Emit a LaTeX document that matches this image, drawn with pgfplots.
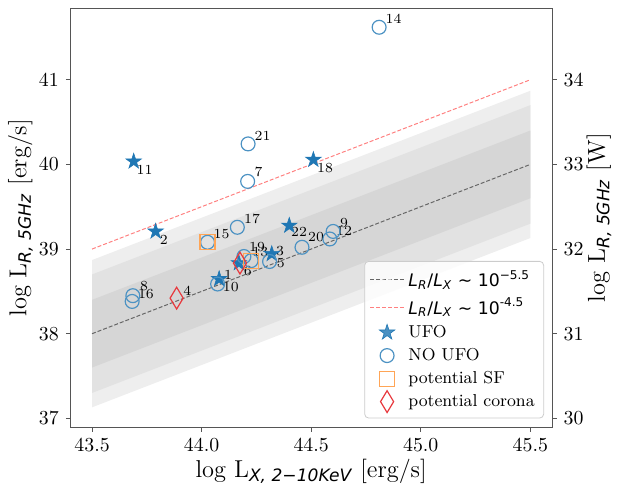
\documentclass[border=0pt]{standalone}
\usepackage{pgfplots}
\pgfplotsset{compat=1.18}
\usepackage{pgfplotstable}
\usetikzlibrary{plotmarks}
\usepackage{fontspec}
\newfontfamily\dejavu{DejaVu Sans}
\definecolor{ufo}{HTML}{1F77B4}
\definecolor{noufo}{HTML}{4C92C3}
\definecolor{sf}{HTML}{FFA556}
\definecolor{cor}{HTML}{E8383D}
\definecolor{bandA}{HTML}{EEEEEE}
\definecolor{bandB}{HTML}{E2E2E2}
\definecolor{bandC}{HTML}{D6D6D6}
\definecolor{spine}{HTML}{555555}
\definecolor{rline}{HTML}{FF8080}

\pgfdeclareplotmark{fstar}{%
  \pgfpathmoveto{\pgfqpointpolar{90}{\pgfplotmarksize}}%
  \pgfpathlineto{\pgfqpointpolar{126}{0.382\pgfplotmarksize}}%
  \pgfpathlineto{\pgfqpointpolar{162}{\pgfplotmarksize}}%
  \pgfpathlineto{\pgfqpointpolar{198}{0.382\pgfplotmarksize}}%
  \pgfpathlineto{\pgfqpointpolar{234}{\pgfplotmarksize}}%
  \pgfpathlineto{\pgfqpointpolar{270}{0.382\pgfplotmarksize}}%
  \pgfpathlineto{\pgfqpointpolar{306}{\pgfplotmarksize}}%
  \pgfpathlineto{\pgfqpointpolar{342}{0.382\pgfplotmarksize}}%
  \pgfpathlineto{\pgfqpointpolar{18}{\pgfplotmarksize}}%
  \pgfpathlineto{\pgfqpointpolar{54}{0.382\pgfplotmarksize}}%
  \pgfpathclose
  \pgfusepathqfillstroke
}

\pgfplotstableread{
x y
44.08 38.646
43.79 39.208
44.32 38.942
44.17 38.834
43.69 40.035
44.51 40.055
44.40 39.277
}\ufotab
\pgfplotstableread{
x y
44.31 38.853
44.21 39.799
43.686 38.449
44.60 39.208
44.073 38.587
44.585 39.119
44.226 38.863
44.81 41.620
44.027 39.080
43.683 38.381
44.163 39.257
44.193 38.912
44.458 39.021
44.212 40.242
}\noufotab
\pgfplotstableread{
x y
44.027 39.080
44.226 38.863
}\sftab
\pgfplotstableread{
x y
43.886 38.420
44.175 38.834
}\cortab

\begin{document}
\begin{tikzpicture}
\begin{axis}[
  scale only axis, width=243pt, height=211.2pt, clip=false,
  xmin=43.4, xmax=45.6, ymin=36.895, ymax=41.845,
  xtick={43.5,44,44.5,45,45.5},
  ytick={37,38,39,40,41},
  xtick pos=bottom, ytick pos=left,
  tick align=outside, major tick length=2.2pt,
  every tick/.style={spine, line width=0.5pt},
  axis line style={spine, line width=0.5pt},
  x tick label style={/pgf/number format/.cd, fixed, fixed zerofill, precision=1},
  tick label style={font=\fontsize{10.2}{12}\selectfont},
  legend style={at={(0.983,0.021)}, anchor=south east, draw=black!20,
    rounded corners=2pt, fill=white, fill opacity=0.8, text opacity=1,
    font=\fontsize{8.7}{10.5}\selectfont, row sep=0pt, inner sep=2.5pt,
    cells={anchor=west}},
]
% bands
\addplot[draw=none, fill=bandA, forget plot] coordinates {(43.5,38.87) (45.5,40.87) (45.5,39.13) (43.5,37.13)} --cycle;
\addplot[draw=none, fill=bandB, forget plot] coordinates {(43.5,38.70) (45.5,40.70) (45.5,39.30) (43.5,37.30)} --cycle;
\addplot[draw=none, fill=bandC, forget plot] coordinates {(43.5,38.40) (45.5,40.40) (45.5,39.60) (43.5,37.60)} --cycle;
% lines
\addplot[black!60, line width=0.5pt, dash pattern=on 2pt off 1pt] coordinates {(43.5,38.0) (45.5,40.0)};
\addlegendentry{{\dejavu\textit{L}\textsubscript{\textit{R}}/\textit{L}\textsubscript{\textit{X}} ∼ 10\textsuperscript{−5.5}}}
\addplot[rline, line width=0.5pt, dash pattern=on 2pt off 1pt] coordinates {(43.5,39.0) (45.5,41.0)};
\addlegendentry{{\dejavu\textit{L}\textsubscript{\textit{R}}/\textit{L}\textsubscript{\textit{X}} ∼ 10\textsuperscript{-4.5}}}
% points
\addplot[only marks, mark=fstar, mark size=4.1pt, draw=ufo, fill=ufo, line width=0.3pt] table {\ufotab};
\addlegendentry{UFO}
\addplot[only marks, mark=o, mark size=3.5pt, draw=noufo, line width=0.6pt] table {\noufotab};
\addlegendentry{NO UFO}
\addplot[only marks, mark=square, mark size=3.8pt, draw=sf, line width=0.6pt] table {\sftab};
\addlegendentry{potential SF}
\addplot[only marks, mark=diamond, mark size=5.5pt, mark options={xscale=0.8}, draw=cor, line width=0.6pt] table {\cortab};
\addlegendentry{potential corona}
% labels
\begin{scope}[every node/.style={font=\fontsize{7}{8}\selectfont, inner sep=0pt}]
\node at (axis cs:44.876,41.719) {14};
\node at (axis cs:44.278,40.336) {21};
\node at (axis cs:44.260,39.907) {7};
\node at (axis cs:44.563,39.956) {18};
\node at (axis cs:43.740,39.937) {11};
\node at (axis cs:43.827,39.109) {2};
\node at (axis cs:44.091,39.178) {15};
\node at (axis cs:44.230,39.356) {17};
\node at (axis cs:43.737,38.568) {8};
\node at (axis cs:43.746,38.469) {16};
\node at (axis cs:43.935,38.509) {4};
\node at (axis cs:44.121,38.695) {1};
\node at (axis cs:44.133,38.548) {10};
\node at (axis cs:44.211,38.735) {6};
\node at (axis cs:44.253,39.021) {19};
\node at (axis cs:44.268,38.967) {13};
\node at (axis cs:44.358,38.971) {3};
\node at (axis cs:44.361,38.834) {5};
\node at (axis cs:44.445,39.198) {22};
\node at (axis cs:44.522,39.139) {20};
\node at (axis cs:44.650,39.306) {9};
\node at (axis cs:44.650,39.218) {12};
\end{scope}
% axis labels
\node[font=\fontsize{12.3}{14}\selectfont, anchor=center] at (rel axis cs:0.5,-0.105)
  {log L\textsubscript{\dejavu\itshape X, 2−10KeV} [erg/s]};
\node[font=\fontsize{12.3}{14}\selectfont, anchor=center, rotate=90] at (rel axis cs:-0.103,0.5)
  {log L\textsubscript{\dejavu\itshape R, 5GHz} [erg/s]};
\node[font=\fontsize{12.3}{14}\selectfont, anchor=center, rotate=90] at (rel axis cs:1.097,0.5)
  {log L\textsubscript{\dejavu\itshape R, 5GHz} [W]};
\path (rel axis cs:-0.1455,-0.1404) rectangle (rel axis cs:1.1261,1.0196);
\end{axis}
\begin{axis}[
  scale only axis, width=243pt, height=211.2pt,
  xmin=43.4, xmax=45.6, ymin=29.895, ymax=34.845,
  axis x line=none, axis y line*=right,
  ytick={30,31,32,33,34},
  tick align=outside, major tick length=2.2pt,
  every tick/.style={spine, line width=0.5pt},
  axis line style={spine, line width=0.5pt, -},
  tick label style={font=\fontsize{10.2}{12}\selectfont},
]
\addplot[draw=none, forget plot] coordinates {(44,32)};
\end{axis}
\end{tikzpicture}
\end{document}
